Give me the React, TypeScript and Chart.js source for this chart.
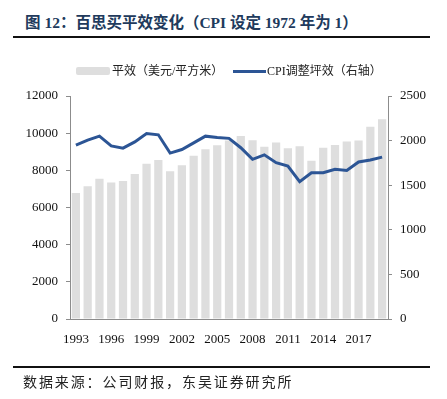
import React, { useEffect, useRef } from "react";
import { Chart, registerables } from "chart.js";

Chart.register(...registerables);

const years: string[] = [
  "1993", "1994", "1995", "1996", "1997", "1998", "1999", "2000", "2001",
  "2002", "2003", "2004", "2005", "2006", "2007", "2008", "2009", "2010",
  "2011", "2012", "2013", "2014", "2015", "2016", "2017", "2018", "2019",
];

const salesPerSqFt: number[] = [
  6780, 7150, 7550, 7350, 7420, 7800, 8350, 8560, 7950,
  8270, 8790, 9140, 9350, 9610, 9850, 9620, 9270, 9500,
  9190, 9290, 8520, 9220, 9360, 9550, 9600, 10350, 10750,
];

const cpiAdjusted: number[] = [
  1950, 2005, 2050, 1940, 1915, 1985, 2080, 2065, 1860,
  1900, 1975, 2050, 2035, 2025, 1920, 1790, 1840, 1752,
  1715, 1540, 1640, 1640, 1678, 1665, 1760, 1783, 1815,
];

const leftTicks = { min: 0, max: 12000, step: 2000 };
const rightTicks = { min: 0, max: 2500, step: 500 };

const titleText = "图 12：百思买平效变化（CPI 设定 1972 年为 1）";
const barLabel = "平效（美元/平方米）";
const lineLabel = "CPI调整坪效（右轴）";
const sourceText = "数据来源：公司财报，东吴证券研究所";

const SERIF = "'Liberation Serif', 'Times New Roman', 'Noto Sans CJK SC', serif";
const CJK = "'Liberation Serif', 'Noto Sans CJK SC', sans-serif";

export default function App() {
  const canvasRef = useRef<HTMLCanvasElement | null>(null);

  useEffect(() => {
    document.body.style.margin = "0";
    const canvas = canvasRef.current;
    if (!canvas) return;
    const chart = new Chart(canvas, {
      type: "bar",
      data: {
        labels: years,
        datasets: [
          {
            type: "line",
            label: lineLabel,
            data: cpiAdjusted,
            yAxisID: "y1",
            borderColor: "#2c5595",
            backgroundColor: "#2c5595",
            borderWidth: 3,
            pointRadius: 0,
            tension: 0,
            order: 0,
          } as any,
          {
            type: "bar",
            label: barLabel,
            data: salesPerSqFt,
            yAxisID: "y",
            backgroundColor: "#dedede",
            borderWidth: 0,
            categoryPercentage: 1,
            barPercentage: 0.7,
            order: 1,
          } as any,
        ],
      },
      options: {
        responsive: false,
        animation: false,
        layout: { padding: { top: 96, left: 0, right: 0, bottom: 0 } },
        plugins: {
          legend: { display: false },
          tooltip: { enabled: false },
          title: { display: false },
        },
        scales: {
          x: {
            type: "category",
            offset: true,
            grid: { display: false, drawOnChartArea: false },
            border: { display: true, color: "#8c8c8c", width: 1 },
            ticks: {
              autoSkip: false,
              maxRotation: 0,
              padding: 5,
              color: "#111",
              font: { family: SERIF, size: 13 },
              callback: (_v: any, i: number) => (i % 3 === 0 ? years[i] : ""),
            },
            afterFit: (s: any) => {
              s.height = 80;
            },
          },
          y: {
            type: "linear",
            position: "left",
            min: leftTicks.min,
            max: leftTicks.max,
            ticks: {
              stepSize: leftTicks.step,
              padding: 8,
              color: "#111",
              font: { family: SERIF, size: 13 },
              callback: (v: any) => String(v),
            },
            grid: { drawOnChartArea: false, tickLength: 4, color: "#8c8c8c" },
            border: { display: true, color: "#8c8c8c", width: 1 },
            afterFit: (s: any) => {
              s.width = 70;
            },
          },
          y1: {
            type: "linear",
            position: "right",
            min: rightTicks.min,
            max: rightTicks.max,
            ticks: {
              stepSize: rightTicks.step,
              padding: 8,
              color: "#111",
              font: { family: SERIF, size: 13 },
              callback: (v: any) => String(v),
            },
            grid: { drawOnChartArea: false, tickLength: 4, color: "#8c8c8c" },
            border: { display: true, color: "#8c8c8c", width: 1 },
            afterFit: (s: any) => {
              s.width = 59;
            },
          },
        },
      },
    });
    return () => chart.destroy();
  }, []);

  return (
    <div style={{ position: "absolute", left: 0, top: 0, width: 447, height: 399, background: "#fff", overflow: "hidden" }}>
      <div
        style={{
          position: "absolute", left: 25, top: 12, whiteSpace: "nowrap",
          fontFamily: SERIF, fontWeight: "bold", fontSize: 15.5, lineHeight: "22px",
          color: "#213a5c",
        }}
      >
        {titleText}
      </div>
      <div style={{ position: "absolute", left: 13, top: 36, width: 417, height: 2, background: "#111" }} />
      <canvas ref={canvasRef} width={447} height={399} style={{ position: "absolute", left: 0, top: 0, display: "block" }} />
      <div style={{ position: "absolute", left: 76, top: 67, width: 34, height: 8, background: "#dedede", borderRadius: 2 }} />
      <div
        style={{
          position: "absolute", left: 112, top: 62, lineHeight: "18px", whiteSpace: "nowrap",
          fontFamily: CJK, fontSize: 12, color: "#222",
        }}
      >
        {barLabel}
      </div>
      <div style={{ position: "absolute", left: 233, top: 69.5, width: 33, height: 3, background: "#2c5595" }} />
      <div
        style={{
          position: "absolute", left: 267, top: 62, lineHeight: "18px", whiteSpace: "nowrap",
          fontFamily: CJK, fontSize: 12, color: "#222",
        }}
      >
        {lineLabel}
      </div>
      <div style={{ position: "absolute", left: 13, top: 366, width: 417, height: 2, background: "#111" }} />
      <div
        style={{
          position: "absolute", left: 23, top: 371, lineHeight: "20px", whiteSpace: "nowrap",
          fontFamily: "'Noto Sans CJK SC', sans-serif", fontSize: 14, letterSpacing: 1.9, color: "#222",
        }}
      >
        {sourceText}
      </div>
    </div>
  );
}
